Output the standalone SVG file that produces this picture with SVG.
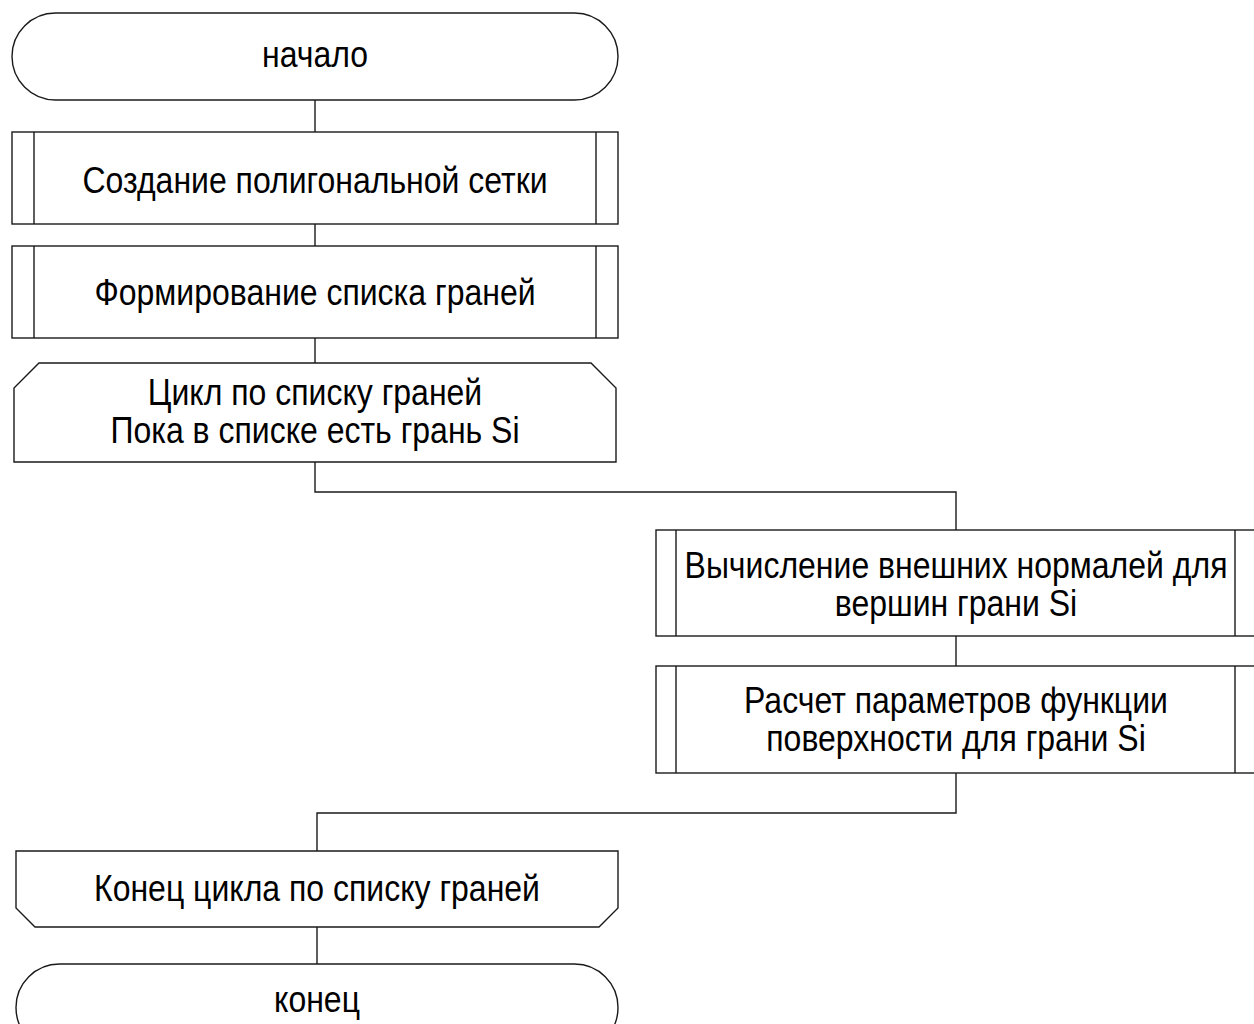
<svg xmlns="http://www.w3.org/2000/svg" width="1254" height="1024" viewBox="0 0 1254 1024">
  <style>
    .shape { fill: #ffffff; stroke: #1a1a1a; stroke-width: 1.4; }
    .bar { fill: none; stroke: #1a1a1a; stroke-width: 1.4; }
    .link { fill: none; stroke: #1a1a1a; stroke-width: 1.4; }
    .label { font-family: "Liberation Sans", Arial, sans-serif; font-size: 32px; fill: #000000; text-anchor: middle; }
  </style>
  <rect width="1254" height="1024" fill="#ffffff"/>

  <!-- connectors -->
  <g id="connectors">
    <path class="link" d="M315 100 V132"/>
    <path class="link" d="M315 224 V246"/>
    <path class="link" d="M315 338 V363"/>
    <path class="link" d="M315 462 V492 H956 V530"/>
    <path class="link" d="M956 636 V666"/>
    <path class="link" d="M956 773 V813 H317 V851"/>
    <path class="link" d="M317 927 V964"/>
  </g>

  <!-- start terminator -->
  <g id="start">
    <rect class="shape" x="12" y="13" width="606" height="87" rx="43.5" ry="43.5"/>
    <text class="label" transform="translate(315 67) scale(1 1.18)">начало</text>
  </g>

  <!-- predefined process: mesh -->
  <g id="create-mesh">
    <rect class="shape" x="12" y="132" width="606" height="92"/>
    <path class="bar" d="M34 132 V224 M596 132 V224"/>
    <text class="label" transform="translate(315 193) scale(1 1.18)">Создание полигональной сетки</text>
  </g>

  <!-- predefined process: face list -->
  <g id="face-list">
    <rect class="shape" x="12" y="246" width="606" height="92"/>
    <path class="bar" d="M34 246 V338 M596 246 V338"/>
    <text class="label" transform="translate(315 305) scale(1 1.18)">Формирование списка граней</text>
  </g>

  <!-- loop start -->
  <g id="loop-start">
    <path class="shape" d="M39 363 H591 L616 388 V462 H14 V388 Z"/>
    <text class="label" transform="translate(315 405) scale(1 1.18)">Цикл по списку граней</text>
    <text class="label" transform="translate(315 443) scale(1 1.18)">Пока в списке есть грань Si</text>
  </g>

  <!-- predefined process: normals -->
  <g id="normals">
    <rect class="shape" x="656" y="530" width="600" height="106"/>
    <path class="bar" d="M676 530 V636 M1235 530 V636"/>
    <text class="label" transform="translate(956 578) scale(1 1.18)">Вычисление внешних нормалей для</text>
    <text class="label" transform="translate(956 616) scale(1 1.18)">вершин грани Si</text>
  </g>

  <!-- predefined process: surface parameters -->
  <g id="surface-params">
    <rect class="shape" x="656" y="666" width="600" height="107"/>
    <path class="bar" d="M676 666 V773 M1235 666 V773"/>
    <text class="label" transform="translate(956 713) scale(1 1.18)">Расчет параметров функции</text>
    <text class="label" transform="translate(956 751) scale(1 1.18)">поверхности для грани Si</text>
  </g>

  <!-- loop end -->
  <g id="loop-end">
    <path class="shape" d="M16 851 H618 V908 L599 927 H35 L16 908 Z"/>
    <text class="label" transform="translate(317 901) scale(1 1.18)">Конец цикла по списку граней</text>
  </g>

  <!-- end terminator -->
  <g id="end">
    <rect class="shape" x="16" y="964" width="602" height="87" rx="43.5" ry="43.5"/>
    <text class="label" transform="translate(317 1012) scale(1 1.18)">конец</text>
  </g>
</svg>
